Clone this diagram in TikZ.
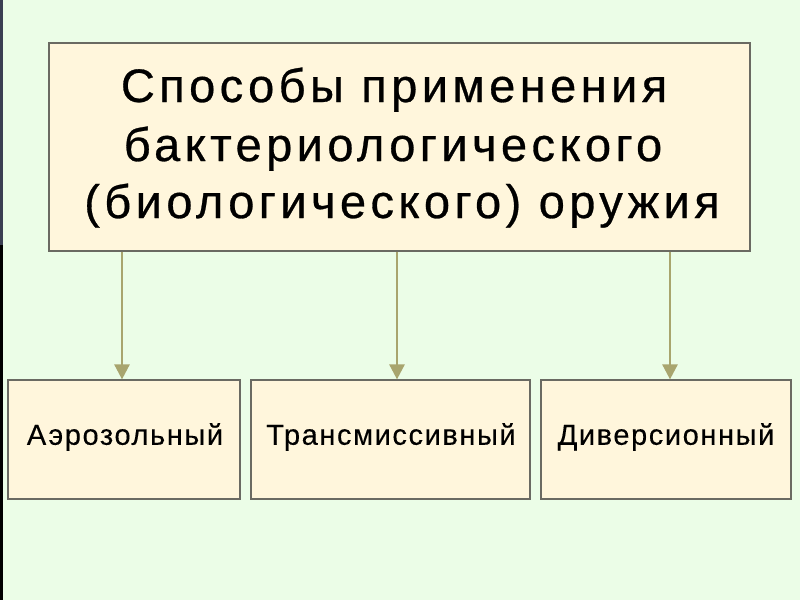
\documentclass[tikz,border=0pt]{standalone}
\usepackage{fontspec}
\setmainfont{Liberation Sans}
\newfontfamily\topfont[LetterSpace=9.4,FakeBold=0.6]{Liberation Sans}
\newfontfamily\botfont[LetterSpace=5.5,FakeBold=0.3]{Liberation Sans}
\usetikzlibrary{arrows.meta}
\definecolor{bg}{HTML}{EBFDE7}
\definecolor{boxfill}{HTML}{FFF6DC}
\definecolor{boxline}{HTML}{6A6A62}
\definecolor{arr}{HTML}{A8A56E}
\definecolor{strip}{HTML}{3A3F52}
\begin{document}
\begin{tikzpicture}[x=1pt,y=-1pt,
  box/.style={draw=boxline,fill=boxfill,line width=1.2pt,inner sep=0pt},
  ttl/.style={anchor=base,inner sep=0pt,font=\topfont\fontsize{47}{58}\selectfont},
  lbl/.style={font=\botfont\fontsize{29}{34}\selectfont},
  conn/.style={draw=arr,line width=2.6pt,-{Triangle[length=15pt,width=15pt]}}]
\useasboundingbox (0,0) rectangle (800,600);
\fill[bg] (0,0) rectangle (800,600);
\fill[strip] (0,0) rectangle (3,245);
\fill[black] (0,245) rectangle (3,600);
\node[box,minimum width=701pt,minimum height=208pt] (top) at (399.5,147) {};
\node[ttl] (t1) at (394,102) {Способы применения};
\node[ttl] (t2) at (393,161) {бактериологического};
\node[ttl] (t3) at (402,218) {(биологического) оружия};
\node[box,minimum width=232pt,minimum height=119pt] (a) at (124,439.5) {};
\node[lbl] at (125,437) {Аэрозольный};
\node[box,minimum width=279pt,minimum height=119pt] (b) at (390.5,439.5) {};
\node[lbl] at (391,437) {Трансмиссивный};
\node[box,minimum width=250pt,minimum height=119pt] (c) at (666,439.5) {};
\node[lbl] at (666,437) {Диверсионный};
\draw[conn] (top.south -| 122,0) -- (a.north -| 122,0);
\draw[conn] (top.south -| 397,0) -- (b.north -| 397,0);
\draw[conn] (top.south -| 670,0) -- (c.north -| 670,0);
\end{tikzpicture}
\end{document}
